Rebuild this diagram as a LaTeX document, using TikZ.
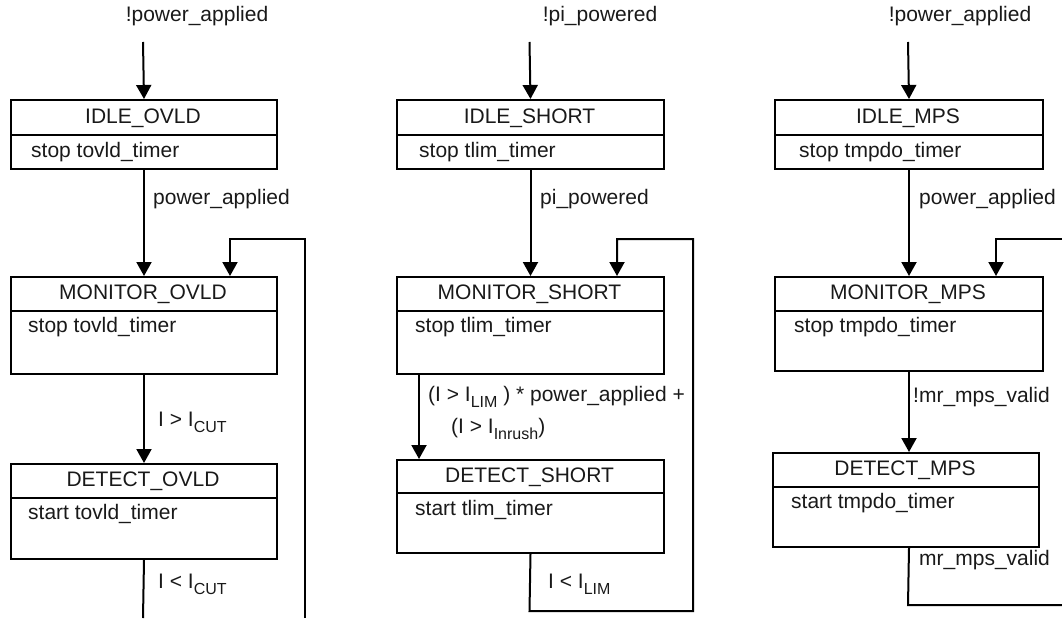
\documentclass[tikz,border=0pt]{standalone}
\usepackage{fontspec}
\setmainfont{Liberation Sans}
\usetikzlibrary{arrows.meta}
\newcommand{\lowtxt}[1]{\raisebox{-0.28em}{\fontsize{16}{16}\selectfont #1}}
\begin{document}
\begin{tikzpicture}[x=1pt,y=-1pt,
  every node/.style={font=\fontsize{21}{25}\selectfont, inner sep=0pt, text=black!90},
  statebox/.style={draw, line width=2pt, rectangle, anchor=north west, inner sep=0pt},
  ln/.style={line width=2pt},
  arr/.style={line width=2pt, -{Triangle[length=14pt,width=15pt]}},
  lbl/.style={anchor=west},
  act/.style={anchor=west}
]
\useasboundingbox (0,0) rectangle (1062,618);

% ---------------- Column 1 : OVLD ----------------
\node (t1) at (197,16) {!power\_applied};
\coordinate (s1) at (143,42);
\node[statebox, minimum width=266pt, minimum height=69pt] (idle1) at (10,99) {};
\draw[ln] (idle1.west |- 0,135) -- (idle1.east |- 0,135);
\node (idle1t) at (143,118) {IDLE\_OVLD};
\node[act] (idle1a) at (31,152) {stop tovld\_timer};

\node[statebox, minimum width=266pt, minimum height=97pt] (mon1) at (10,276) {};
\draw[ln] (mon1.west |- 0,311) -- (mon1.east |- 0,311);
\node (mon1t) at (143,294.5) {MONITOR\_OVLD};
\node[act] (mon1a) at (28,327) {stop tovld\_timer};

\node[statebox, minimum width=266pt, minimum height=95pt] (det1) at (10,463) {};
\draw[ln] (det1.west |- 0,498) -- (det1.east |- 0,498);
\node (det1t) at (143,481.5) {DETECT\_OVLD};
\node[act] (det1a) at (28,514) {start tovld\_timer};

\draw[arr] (s1) -- (idle1.north);
\draw[arr] (idle1.south) -- (mon1.north);
\node[lbl] (p1) at (153,199) {power\_applied};
\draw[arr] (mon1.south) -- (det1.north);
\node[lbl] (c1) at (158,422) {I > I\lowtxt{CUT}};
\coordinate (e1) at (143,618);
\draw[ln] (det1.south) -- (e1);
\node[lbl] (c1b) at (158,584) {I < I\lowtxt{CUT}};
\coordinate (r1b) at (305,618);
\coordinate (r1t) at (305,239);
\coordinate (r1k) at (230,239);
\draw[arr] (r1b) -- (r1t) -- (r1k) -- (r1k |- mon1.north);

% ---------------- Column 2 : SHORT ----------------
\node (t2) at (600,16) {!pi\_powered};
\coordinate (s2) at (529.5,42);
\node[statebox, minimum width=267pt, minimum height=69pt] (idle2) at (396,99) {};
\draw[ln] (idle2.west |- 0,135) -- (idle2.east |- 0,135);
\node (idle2t) at (529.5,118) {IDLE\_SHORT};
\node[act] (idle2a) at (419,152) {stop tlim\_timer};

\node[statebox, minimum width=267pt, minimum height=97pt] (mon2) at (396,276) {};
\draw[ln] (mon2.west |- 0,311) -- (mon2.east |- 0,311);
\node (mon2t) at (529.5,294.5) {MONITOR\_SHORT};
\node[act] (mon2a) at (415,327) {stop tlim\_timer};

\node[statebox, minimum width=267pt, minimum height=93pt] (det2) at (396,459) {};
\draw[ln] (det2.west |- 0,493) -- (det2.east |- 0,493);
\node (det2t) at (529.5,477) {DETECT\_SHORT};
\node[act] (det2a) at (415,510) {start tlim\_timer};

\draw[arr] (s2) -- (idle2.north);
\draw[arr] (idle2.south) -- (mon2.north);
\node[lbl] (p2) at (540,199) {pi\_powered};
\draw[arr] (mon2.south -| 419,0) -- (det2.north -| 419,0);
\node[lbl] (c2) at (428,397) {(I > I\lowtxt{LIM} ) * power\_applied +};
\node[lbl] (c2b) at (451,429) {(I > I\lowtxt{Inrush})};
\coordinate (r2b) at (529.5,611);
\coordinate (r2c) at (693,611);
\coordinate (r2t) at (693,239);
\coordinate (r2k) at (617,239);
\draw[arr] (det2.south) -- (r2b) -- (r2c) -- (r2t) -- (r2k) -- (r2k |- mon2.north);
\node[lbl] (c2c) at (548,584) {I < I\lowtxt{LIM}};

% ---------------- Column 3 : MPS ----------------
\node (t3) at (960,16) {!power\_applied};
\coordinate (s3) at (908,42);
\node[statebox, minimum width=268pt, minimum height=69pt] (idle3) at (774,99) {};
\draw[ln] (idle3.west |- 0,135) -- (idle3.east |- 0,135);
\node (idle3t) at (908,118) {IDLE\_MPS};
\node[act] (idle3a) at (799,152) {stop tmpdo\_timer};

\node[statebox, minimum width=268pt, minimum height=94pt] (mon3) at (774,276) {};
\draw[ln] (mon3.west |- 0,311) -- (mon3.east |- 0,311);
\node (mon3t) at (908,294.5) {MONITOR\_MPS};
\node[act] (mon3a) at (794,327) {stop tmpdo\_timer};

\node[statebox, minimum width=266pt, minimum height=94pt] (det3) at (772,452) {};
\draw[ln] (det3.west |- 0,487) -- (det3.east |- 0,487);
\node (det3t) at (905,470.5) {DETECT\_MPS};
\node[act] (det3a) at (791,503) {start tmpdo\_timer};

\draw[arr] (s3) -- (idle3.north);
\draw[arr] (idle3.south) -- (mon3.north);
\node[lbl] (p3) at (919,199) {power\_applied};
\draw[arr] (mon3.south) -- (mon3.south |- det3.north);
\node[lbl] (c3) at (913,397) {!mr\_mps\_valid};
\coordinate (r3b) at (908,605);
\coordinate (r3e) at (1062,605);
\draw[ln] (mon3.south |- det3.south) -- (r3b) -- (r3e);
\node[lbl] (c3b) at (919,560) {mr\_mps\_valid};
\coordinate (r3s) at (1062,239);
\coordinate (r3k) at (996,239);
\draw[arr] (r3s) -- (r3k) -- (r3k |- mon3.north);
\end{tikzpicture}
\end{document}
